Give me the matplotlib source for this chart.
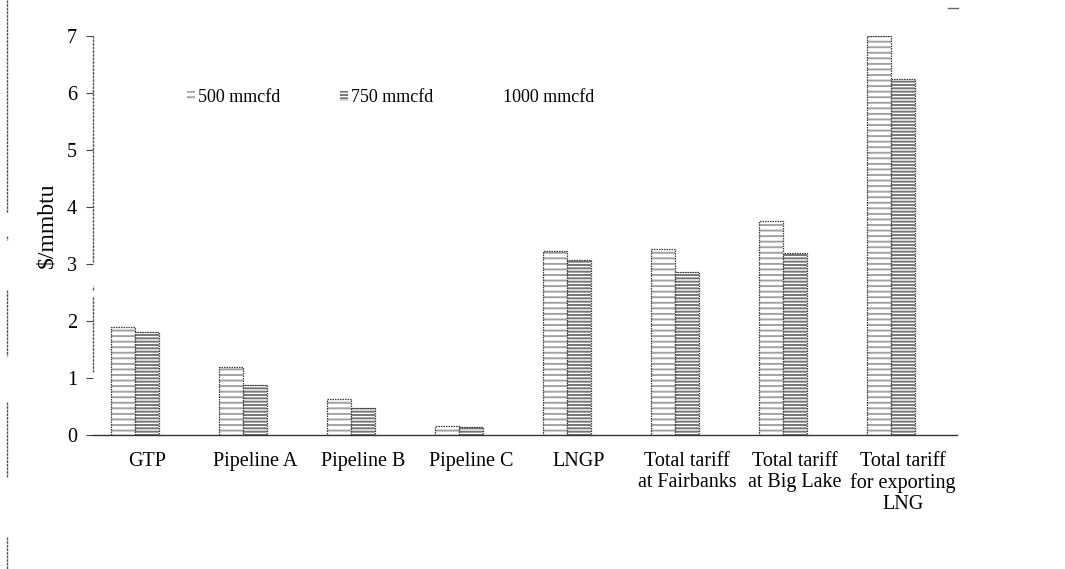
import numpy as np
import matplotlib
matplotlib.use("Agg")
import matplotlib.pyplot as plt
from matplotlib.lines import Line2D

# Tariff components ($/mmbtu) by gas throughput
categories = ["GTP", "Pipeline A", "Pipeline B", "Pipeline C", "LNGP",
              "Total tariff\nat Fairbanks", "Total tariff\nat Big Lake",
              "Total tariff\nfor exporting\nLNG"]
series_labels = ["500 mmcfd", "750 mmcfd", "1000 mmcfd"]
tariff_500 = [1.90, 1.20, 0.63, 0.15, 3.23, 3.26, 3.76, 7.00]
tariff_750 = [1.80, 0.87, 0.47, 0.14, 3.07, 2.86, 3.19, 6.25]
tariff_1000 = [np.nan] * 8   # series is blank in the figure
yticks = [0, 1, 2, 3, 4, 5, 6, 7]

plt.rcParams["font.family"] = ["Liberation Serif", "DejaVu Serif"]
plt.rcParams["hatch.linewidth"] = 1.4

W, H = 1065, 569
fig = plt.figure(figsize=(W / 100, H / 100), dpi=100)
ax = fig.add_axes([93 / W, 1 - 435 / H, 864 / W, 399 / H])

x = np.arange(len(categories))
width = 0.222
styles = [
    dict(hatch="---", hcolor="#a2a2a2"),
    dict(hatch="-----", hcolor="#767676"),
    dict(hatch=None, hcolor="white"),
]
all_series = [tariff_500, tariff_750, tariff_1000]
handles = []
for i, (vals, st, lab) in enumerate(zip(all_series, styles, series_labels)):
    pos = x + (i - 1) * width
    if st["hatch"] is not None:
        b = ax.bar(pos, vals, width, color="white", edgecolor=st["hcolor"],
                   hatch=st["hatch"], linewidth=0, label=lab)
        ax.bar(pos, vals, width, fill=False, edgecolor="#3a3a3a",
               linewidth=0.9, linestyle=(0, (1.2, 0.8)))
    else:
        b = ax.bar(pos, vals, width, color="white", linewidth=0, label=lab)
    handles.append(b)

ax.set_xlim(-0.5, len(categories) - 0.5)
ax.set_ylim(0, 7)
ax.set_yticks(yticks)
ax.set_xticks(x)
ax.set_xticklabels(categories, fontsize=14.5, linespacing=1.15)
ax.tick_params(axis="x", length=0, pad=12)
ax.tick_params(axis="y", direction="out", length=5, width=0.8, color="#444444",
               labelsize=14.5, pad=6.5)

for s in ("top", "right", "left"):
    ax.spines[s].set_visible(False)
ax.spines["bottom"].set_color("#333333")
ax.spines["bottom"].set_linewidth(1.0)

# broken left axis line, as printed
for y0, y1 in [(3.03, 7.0), (2.55, 2.62), (1.10, 2.42)]:
    ax.plot([-0.5, -0.5], [y0, y1], color="#555555", lw=1.0,
            linestyle=(0, (2, 0.6)), clip_on=False, zorder=3)

ax.set_ylabel("$/mmbtu", fontsize=17)
ax.yaxis.set_label_coords(-0.041, 0.526)

leg = fig.legend(handles=handles, labels=series_labels, ncol=3, frameon=False,
                 loc="center left", bbox_to_anchor=(178 / W, 1 - 98 / H),
                 fontsize=13, handlelength=0.45, handleheight=0.5,
                 handletextpad=0.15, columnspacing=3.3, borderpad=0)

# page margin rule on the left
for y0, y1 in [(0, 213), (236, 240), (290, 356), (402, 477), (537, 569)]:
    fig.add_artist(Line2D([7 / W, 7 / W], [1 - y0 / H, 1 - y1 / H],
                          color="#555555", lw=1.0, linestyle=(0, (2, 0.6))))
fig.add_artist(Line2D([948 / W, 958 / W], [1 - 8 / H, 1 - 8 / H],
                      color="#666666", lw=1.0))

fig.savefig("out.png", dpi=100, facecolor="white")
